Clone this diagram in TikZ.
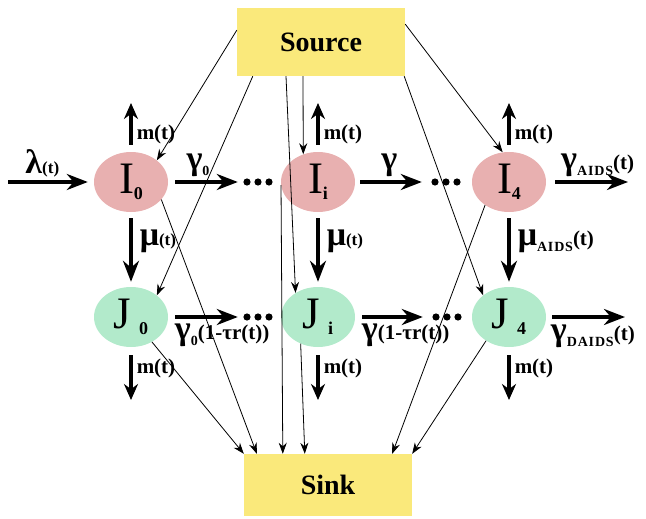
\documentclass[tikz,border=0pt]{standalone}
\usepackage{fontspec}
\setmainfont{Liberation Serif}
\usetikzlibrary{arrows.meta,positioning,calc,shapes.geometric}

\definecolor{boxyellow}{RGB}{250,233,123}
\definecolor{infpink}{RGB}{232,176,176}
\definecolor{diagreen}{RGB}{178,234,203}

\newcommand{\statesub}[1]{\raisebox{-6pt}{\fontsize{18}{18}\selectfont\bfseries #1}}
\newcommand{\ratesub}[1]{\raisebox{-6pt}{\fontsize{14}{14}\selectfont\bfseries\addfontfeature{LetterSpace=6} #1}}
\newcommand{\bigsym}[1]{{\fontsize{34}{34}\selectfont #1}}
\newcommand{\smallarg}{{\fontsize{17}{17}\selectfont(t)}}

\begin{document}
\begin{tikzpicture}[
    x=1pt, y=-1pt,
    >=Stealth,
    flowbox/.style={rectangle, fill=boxyellow, minimum width=168pt, minimum height=68pt, font=\fontsize{28}{30}\selectfont\bfseries},
    istate/.style={ellipse, fill=infpink, minimum width=74pt, minimum height=60pt, inner sep=0pt, font=\fontsize{45}{45}\selectfont},
    jstate/.style={ellipse, fill=diagreen, minimum width=74pt, minimum height=60pt, inner sep=0pt, font=\fontsize{45}{45}\selectfont},
    dotrow/.style={rectangle, minimum width=30pt, minimum height=8pt, inner sep=0pt,
        path picture={\foreach \k in {-1,0,1} \fill ($(path picture bounding box.center)+(\k*11,0)$) circle (3.6pt);}},
    flow/.style={-{Stealth[length=21pt, width=16pt]}, line width=3.5pt},
    outflow/.style={-{Stealth[length=16pt, width=14pt]}, line width=3.5pt},
    link/.style={-{Stealth[length=11pt, width=8pt]}, line width=0.8pt},
    lbl/.style={inner sep=1pt, font=\fontsize{21}{22}\selectfont\bfseries}
]
    \useasboundingbox (0,0) rectangle (646,519);

    % source and sink
    \node[flowbox] (Source) at (321,42) {Source};
    \node[flowbox, minimum height=62pt] (Sink) at (328,485) {Sink};

    % infected stages
    \node[istate] (I0) at (131,182) {I\statesub{0}};
    \node[istate] (Ii) at (318,182) {I\statesub{i}};
    \node[istate] (I4) at (509,182) {I\statesub{4}};

    % diagnosed stages
    \node[jstate] (J0) at (131,317) {J\,\statesub{0}};
    \node[jstate] (Ji) at (318,317) {J\,\statesub{i}};
    \node[jstate] (J4) at (509,317) {J\,\statesub{4}};

    \node[dotrow] (dI0) at (258,182) {};
    \node[dotrow] (dIi) at (446,182) {};
    \node[dotrow] (dJ0) at (258,317) {};
    \node[dotrow] (dJi) at (447,317) {};

    % free ends
    \coordinate (lamIn) at (8,182);
    \coordinate (mI0)   at (131,103);
    \coordinate (mIi)   at (318,103);
    \coordinate (mI4)   at (509,103);
    \coordinate (mJ0)   at (131,400);
    \coordinate (mJi)   at (318,400);
    \coordinate (mJ4)   at (509,400);
    \coordinate (gOutI) at (628,182);
    \coordinate (gOutJ) at (625,317);

    % upper row
    \draw[flow, shorten >=6pt] (lamIn) -- (I0.west)
        node[pos=0.4, above=2pt, lbl] (lamLbl) {\bigsym{λ}\smallarg};
    \draw[flow, shorten <=7pt, shorten >=5pt] (I0.east) -- (dI0.west)
        node[pos=0.4, above=3pt, lbl] (g0Lbl) {\bigsym{γ}\ratesub{0}};
    \draw[flow, shorten <=5pt, shorten >=9pt] (Ii.east) -- (dIi.west)
        node[pos=0.45, above=3pt, lbl] (gLbl) {\bigsym{γ}};
    \draw[flow, shorten <=9pt] (I4.east) -- (gOutI)
        node[pos=0.15, above right=3pt and 0pt, lbl] (gAidsLbl) {\bigsym{γ}\ratesub{AIDS}(t)};

    \draw[outflow, shorten <=7pt] (I0.north) -- (mI0) node[pos=0.35, right=3pt, lbl] (mLblI0) {m(t)};
    \draw[outflow, shorten <=7pt] (Ii.north) -- (mIi) node[pos=0.35, right=3pt, lbl] (mLblIi) {m(t)};
    \draw[outflow, shorten <=7pt] (I4.north) -- (mI4) node[pos=0.35, right=3pt, lbl] (mLblI4) {m(t)};

    % diagnosis
    \draw[flow, shorten <=6pt, shorten >=5pt] (I0.south) -- (J0.north)
        node[pos=0.39, right=6pt, lbl] (muLbl0) {\bigsym{μ}\smallarg};
    \draw[flow, shorten <=6pt, shorten >=5pt] (Ii.south) -- (Ji.north)
        node[pos=0.39, right=6pt, lbl] (muLbli) {\bigsym{μ}\smallarg};
    \draw[flow, shorten <=6pt, shorten >=5pt] (I4.south) -- (J4.north)
        node[pos=0.39, right=6pt, lbl] (muLbl4) {\bigsym{μ}\ratesub{AIDS}(t)};

    % lower row
    \draw[flow, shorten <=7pt, shorten >=5pt] (J0.east) -- (dJ0.west)
        node[at start, below right=4pt and 4pt, lbl] (gJ0Lbl) {\bigsym{γ}\ratesub{0}(1-τr(t))};
    \draw[flow, shorten <=7pt, shorten >=9pt] (Ji.east) -- (dJi.west)
        node[at start, below right=4pt and 4pt, lbl] (gJiLbl) {\bigsym{γ}(1-τr(t))};
    \draw[flow, shorten <=6pt] (J4.east) -- (gOutJ)
        node[at start, below right=5pt and 2pt, lbl] (gJ4Lbl) {\bigsym{γ}\ratesub{DAIDS}(t)};

    \draw[outflow, shorten <=8pt] (J0.south) -- (mJ0) node[pos=0.4, right=3pt, lbl] (mLblJ0) {m(t)};
    \draw[outflow, shorten <=8pt] (Ji.south) -- (mJi) node[pos=0.4, right=3pt, lbl] (mLblJi) {m(t)};
    \draw[outflow, shorten <=8pt] (J4.south) -- (mJ4) node[pos=0.4, right=3pt, lbl] (mLblJ4) {m(t)};

    % links from the source
    \draw[link] (Source.172) -- (I0.40);
    \draw[link] ($(Source.south west)+(16,0)$) -- (J0.40);
    \draw[link] ($(Source.south)+(-18,0)$) -- (Ii.118);
    \draw[link] ($(Source.south)+(-35,0)$) -- (Ji.133);
    \draw[link] (Source.12) -- (I4.102);
    \draw[link] ($(Source.south east)+(-1,0)$) -- (J4.140);

    % links to the sink
    \draw[link] (I0.-30) -- ($(Sink.north west)+(13,0)$);
    \draw[link] (J0.-50) -- (Sink.north west);
    \draw[link] (Ii.185) -- ($(Sink.north west)+(39,0)$);
    \draw[link] (Ji.237) -- ($(Sink.north west)+(61,0)$);
    \draw[link] (I4.224) -- ($(Sink.north east)+(-20,0)$);
    \draw[link] (J4.226) -- (Sink.north east);

\end{tikzpicture}
\end{document}
